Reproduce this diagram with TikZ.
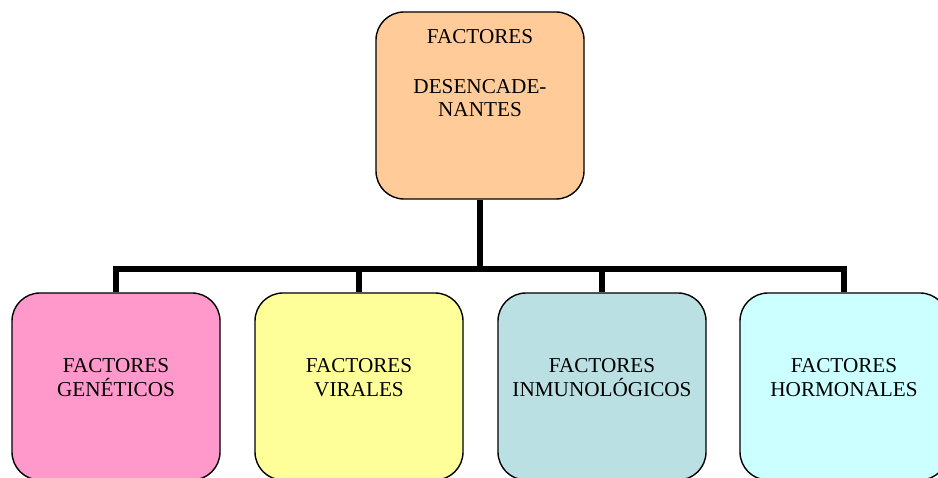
\documentclass[tikz,border=0pt]{standalone}
\usepackage{fontspec}
\setmainfont{Liberation Serif}
\definecolor{peach}{HTML}{FFCC99}
\definecolor{pinkb}{HTML}{FF99CC}
\definecolor{yellowb}{HTML}{FFFF99}
\definecolor{blueb}{HTML}{BBE0E3}
\definecolor{cyanb}{HTML}{CCFFFF}
\begin{document}
\begin{tikzpicture}[x=1pt,y=-1pt,
  box/.style={draw=black,line width=1.4pt,rounded corners=28pt,minimum width=208pt,minimum height=187pt,inner sep=0pt},
  lbl/.style={inner sep=0pt,align=center,anchor=base,font=\fontsize{21.2pt}{24pt}\selectfont},
  bus/.style={line width=6.5pt,draw=black}]
\useasboundingbox (0,0) rectangle (938,478);
\coordinate (j) at (480,269);
% connectors first
\node[box,draw=none,minimum height=187pt] (top) at (480,105.5) {};
\node[box,draw=none] (b1) at (116,386.5) {};
\node[box,draw=none] (b2) at (359,386.5) {};
\node[box,draw=none] (b3) at (602,386.5) {};
\node[box,draw=none] (b4) at (844,386.5) {};
\draw[bus] (top.south) -- (j);
\draw[bus] (j) -| (b1.north);
\draw[bus] (j) -| (b2.north);
\draw[bus] (j) -| (b3.north);
\draw[bus] (j) -| (b4.north);
% boxes
\node[box,fill=peach] (topbox) at (480,105.5) {};
\node[box,fill=pinkb] (bx1) at (116,386.5) {};
\node[box,fill=yellowb] (bx2) at (359,386.5) {};
\node[box,fill=blueb] (bx3) at (602,386.5) {};
\node[box,fill=cyanb] (bx4) at (844,386.5) {};
% texts
\node[lbl] (t0a) at (480,43.3) {FACTORES};
\node[lbl,font=\fontsize{21.2pt}{22.7pt}\selectfont] (t0b) at (480,116.7) {DESENCADE-\\NANTES};
\node[lbl] (t1) at (116,396.6) {FACTORES\\GENÉTICOS};
\node[lbl] (t2) at (359,396.6) {FACTORES\\VIRALES};
\node[lbl] (t3) at (602,396.6) {FACTORES\\INMUNOLÓGICOS};
\node[lbl] (t4) at (844,396.6) {FACTORES\\HORMONALES};
\end{tikzpicture}
\end{document}
